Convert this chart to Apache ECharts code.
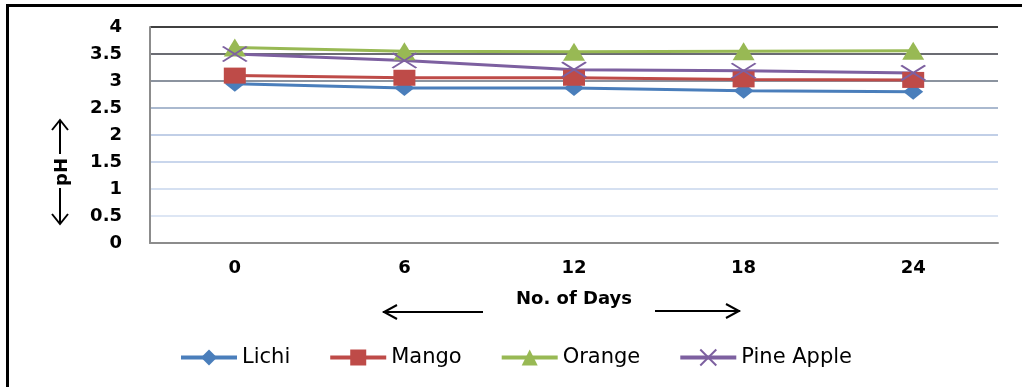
<!DOCTYPE html>
<html>
<head>
<meta charset="utf-8">
<title>pH of fruit juices during storage</title>
<script src="https://cdn.jsdelivr.net/npm/echarts@6.0.0/dist/echarts.min.js"></script>
<style>
  html, body { margin: 0; padding: 0; background: #fff; }
  #wrap { position: relative; width: 1022px; height: 387px; overflow: hidden; }
  #chart { position: absolute; left: 0; top: 0; width: 1022px; height: 387px; }
  #frame { position: absolute; left: 6px; top: 4px; right: -10px; bottom: -10px;
           border-left: 3px solid #000; border-top: 3px solid #000; pointer-events: none; }
</style>
</head>
<body>
<div id="wrap">
  <div id="chart"></div>
  <div id="frame"></div>
</div>
<script>
// Storage days (x categories)
const days = ['0', '6', '12', '18', '24'];

// pH readings per fruit juice
const lichi     = [2.95, 2.87, 2.87, 2.82, 2.80];
const mango     = [3.10, 3.06, 3.06, 3.03, 3.02];
const orange    = [3.62, 3.55, 3.54, 3.55, 3.56];
const pineApple = [3.50, 3.38, 3.21, 3.19, 3.15];

const seriesNames = ['Lichi', 'Mango', 'Orange', 'Pine Apple'];

// y axis scale
const yMin = 0, yMax = 4, yStep = 0.5;

const colors = ['#4a7ebb', '#be4b48', '#98b954', '#7d60a0'];
const crossPath = 'path://M0,0L10,10M10,0L0,10';

// horizontal gridlines from 0 up to 4, darkening towards the top
const gridColors = ['#8c8c8c', '#dde6f4', '#d5e0f1', '#c9d6ec', '#c1cfe7',
                    '#aab9cf', '#8b939f', '#6b6c73', '#404040'];

const labelFont = { fontFamily: 'DejaVu Sans', fontWeight: 'bold', fontSize: 18, color: '#000' };

function lineSeries(name, data, color, symbol, size, extra) {
  return Object.assign({
    name: name,
    type: 'line',
    data: data,
    symbol: symbol,
    symbolSize: size,
    showAllSymbol: true,
    lineStyle: { color: color, width: 3 },
    itemStyle: { color: color },
    emphasis: { disabled: true },
    animation: false
  }, extra || {});
}

const chart = echarts.init(document.getElementById('chart'), null, { renderer: 'canvas' });

chart.setOption({
  backgroundColor: '#fff',
  animation: false,
  grid: { left: 150, right: 24, top: 27, bottom: 144, containLabel: false },
  xAxis: {
    type: 'category',
    data: days,
    boundaryGap: true,
    axisLine: { show: true, lineStyle: { color: '#8c8c8c', width: 2 } },
    axisTick: { show: false },
    axisLabel: Object.assign({ margin: 16 }, labelFont),
    name: 'No. of Days',
    nameLocation: 'middle',
    nameGap: 47,
    nameTextStyle: Object.assign({}, labelFont, { fontSize: 18 }),
    splitLine: { show: false }
  },
  yAxis: {
    type: 'value',
    min: yMin,
    max: yMax,
    interval: yStep,
    axisLine: { show: true, lineStyle: { color: '#8c8c8c', width: 2 } },
    axisTick: { show: false },
    axisLabel: Object.assign({ margin: 28 }, labelFont),
    splitLine: { show: true, lineStyle: { color: gridColors, width: 2 } }
  },
  legend: {
    data: seriesNames,
    left: 174,
    top: 342,
    itemWidth: 56,
    itemHeight: 20,
    itemGap: 38,
    lineStyle: { width: 4 },
    textStyle: { fontFamily: 'DejaVu Sans', fontSize: 21, color: '#000' }
  },
  series: [
    lineSeries('Lichi', lichi, colors[0], 'diamond', [20, 16]),
    lineSeries('Mango', mango, colors[1], 'rect', [22, 16]),
    lineSeries('Orange', orange, colors[2], 'triangle', [22, 18]),
    lineSeries('Pine Apple', pineApple, colors[3], crossPath, [24, 15], {
      itemStyle: { color: 'none', borderColor: colors[3], borderWidth: 2 }
    })
  ],
  graphic: [
    // arrows either side of the x axis title
    { type: 'polyline', shape: { points: [[383, 312], [483, 312]] }, style: { stroke: '#000', lineWidth: 2, fill: null } },
    { type: 'polyline', shape: { points: [[397, 305], [384, 312], [397, 319]] }, style: { stroke: '#000', lineWidth: 2, fill: null } },
    { type: 'polyline', shape: { points: [[655, 311], [740, 311]] }, style: { stroke: '#000', lineWidth: 2, fill: null } },
    { type: 'polyline', shape: { points: [[726, 304], [739, 311], [726, 318]] }, style: { stroke: '#000', lineWidth: 2, fill: null } },
    // y axis title with arrows
    { type: 'polyline', shape: { points: [[60, 120], [60, 154]] }, style: { stroke: '#000', lineWidth: 2, fill: null } },
    { type: 'polyline', shape: { points: [[52, 130], [60, 120], [68, 130]] }, style: { stroke: '#000', lineWidth: 2, fill: null } },
    { type: 'polyline', shape: { points: [[60, 188], [60, 224]] }, style: { stroke: '#000', lineWidth: 2, fill: null } },
    { type: 'polyline', shape: { points: [[52, 214], [60, 224], [68, 214]] }, style: { stroke: '#000', lineWidth: 2, fill: null } },
    {
      type: 'text',
      x: 62, y: 172,
      rotation: Math.PI / 2,
      style: {
        text: 'pH',
        fontFamily: 'DejaVu Sans', fontWeight: 'bold', fontSize: 18,
        fill: '#000', align: 'center', verticalAlign: 'middle'
      }
    }
  ]
});
</script>
</body>
</html>
